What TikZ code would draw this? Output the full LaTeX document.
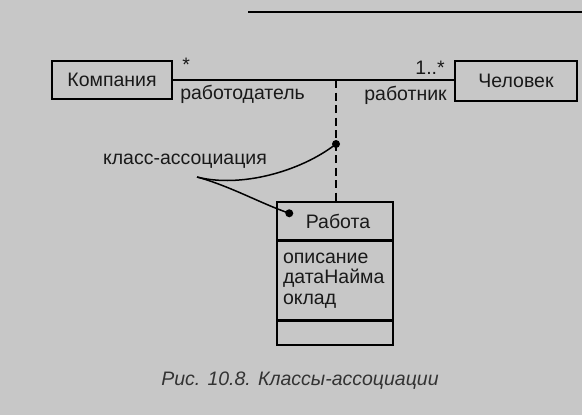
\documentclass[tikz,border=0pt]{standalone}
\usepackage{fontspec}
\setmainfont{Liberation Sans}
\usetikzlibrary{positioning}

\begin{document}
\begin{tikzpicture}[x=1pt, y=-1pt,
    every node/.style={font=\fontsize{19.5}{20.5}\selectfont, text=black!90},
    cls/.style={draw, line width=1.5pt, inner sep=0pt, minimum height=38pt},
    link/.style={line width=1.5pt}]
    \fill[black!22] (0,0) rectangle (582,415);
    \useasboundingbox (0,0) rectangle (582,415);
    \draw[line width=1.2pt] (248,12) -- (582,12);
    \node[cls, minimum width=120pt] (comp) at (112,80) {Компания};
    \node[cls, minimum width=122pt, minimum height=40pt] (man) at (516,81) {Человек};
    \draw[link] (comp.east) -- (comp.east -| man.west);
    \node[above right=5pt and 6pt of comp.east] (mcomp) {*};
    \node[above left=3pt and 6pt of man.west] (mman) {1..*};
    \node[below right=2pt and 4pt of comp.east] (rcomp) {работодатель};
    \node[below left=2pt and 4pt of man.west] (rman) {работник};
    \node[cls, minimum width=116pt] (job) at (335,221) {\hspace*{6pt}Работа};
    \node[cls, minimum width=116pt, minimum height=78pt, below=0pt of job,
          align=left, text width=104pt] (attr) {описание\\датаНайма\\оклад};
    \node[cls, minimum width=116pt, minimum height=24pt, below=0pt of attr] (ops) {};
    \coordinate (mid) at (336,80);
    \coordinate (dotA) at (336,144);
    \draw[link, dash pattern=on 8pt off 4.5pt] (mid) -- (job.north -| mid);
    \node (lbl) at (185,161) {класс-ассоциация};
    \coordinate (fork) at ([shift={(12,16)}]lbl.center);
    \coordinate (dotB) at ([shift={(13,12)}]job.north west);
    \draw[link] (fork) .. controls (240,188) and (300,172) .. (dotA);
    \draw[link] (fork) .. controls (230,186) and (262,204) .. (dotB);
    \foreach \p in {dotA, dotB} {
        \fill (\p) circle (4pt);
    }
    \node[font=\fontsize{19.5}{20}\selectfont\itshape, text=black!80] (cap) at (300,381)
        {Рис. 10.8. Классы-ассоциации};
\end{tikzpicture}
\end{document}
